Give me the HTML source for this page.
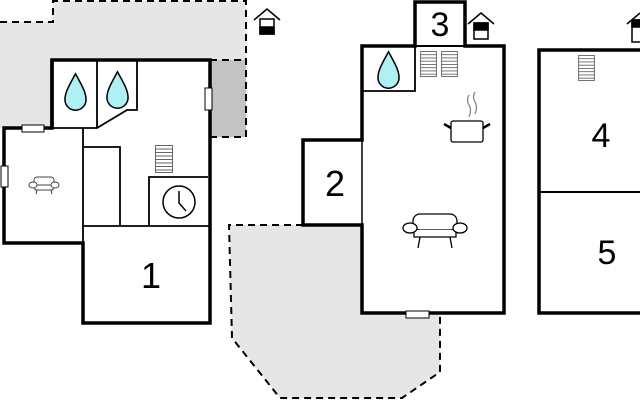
<!DOCTYPE html>
<html><head><meta charset="utf-8"><style>
html,body{margin:0;padding:0;background:#fff;width:640px;height:400px;overflow:hidden}
svg text{font-family:"Liberation Sans",sans-serif;fill:#000}
</style></head><body>
<svg width="640" height="400" viewBox="0 0 640 400" xmlns="http://www.w3.org/2000/svg">
<defs>
<symbol id="drop" viewBox="0 0 24 40"><path d="M12 1 C6 12 1 20 1 28 A11 11 0 0 0 23 28 C23 20 18 12 12 1 Z" fill="#aef0f3" stroke="#000" stroke-width="1.6"/></symbol>
<symbol id="stairs" viewBox="0 0 18 28"><rect x="0.5" y="0.5" width="17" height="27" fill="#fff" stroke="#666" stroke-width="1"/><path d="M0 4h18M0 7.5h18M0 11h18M0 14.5h18M0 18h18M0 21.5h18M0 25h18" stroke="#666" stroke-width="1"/></symbol>
</defs>
<!-- grey areas left -->
<path d="M0 22 H53 V1 H246 V60 H210 V128 H52 V128 H0 Z" fill="#e6e6e6"/>
<rect x="210" y="60" width="36" height="77" fill="#c3c3c3"/>
<path d="M0 22 H53 V1 H246 V137 H210" fill="none" stroke="#000" stroke-width="2" stroke-dasharray="7,5"/>
<path d="M210 60 H246" fill="none" stroke="#000" stroke-width="2" stroke-dasharray="7,5"/>
<!-- grey area center -->
<path d="M229 225 H362 V313 H440 V372 L402 398 H280 L232 338 Z" fill="#e6e6e6"/>
<path d="M303 225 H229 L232 338 L280 398 H402 L440 372 V313" fill="none" stroke="#000" stroke-width="2" stroke-dasharray="7,5"/>
<!-- building 1 -->
<g fill="none" stroke="#000">
<path d="M52 60 H210 V323 H83 V243 H4 V128 H52 Z" fill="#fff" stroke-width="3.5"/>
<path d="M52 60 V128" stroke-width="3.5"/>
<path d="M97 60 V128 M52 128 H97 L127 110 H137 V60" stroke-width="1.8"/>
<path d="M83 128 V243 M83 226 H210 M83 147 H120 V226 M149 226 V177 H208" stroke-width="1.8"/>
</g>
<use href="#drop" x="64" y="72" width="23" height="40"/>
<use href="#drop" x="106" y="70" width="23" height="40"/>
<rect x="22" y="125" width="22" height="7" fill="#fff" stroke="#000" stroke-width="1"/>
<rect x="1" y="166" width="7" height="21" fill="#fff" stroke="#000" stroke-width="1"/>
<rect x="205" y="88" width="7" height="22" fill="#fff" stroke="#000" stroke-width="1"/>
<use href="#stairs" x="155" y="145" width="18" height="28"/>
<circle cx="179" cy="202" r="16" fill="none" stroke="#000" stroke-width="1.5"/>
<path d="M179 191 V203 L186 211" fill="none" stroke="#000" stroke-width="1.5"/>
<g fill="#fff" stroke="#444" stroke-width="1">
<rect x="34" y="177" width="20" height="8" rx="3"/>
<ellipse cx="33" cy="185" rx="4" ry="3"/><ellipse cx="55" cy="185" rx="4" ry="3"/>
<path d="M35 187 V190 H53 V187 M37 190 L36 194 M51 190 L52 194"/>
</g>
<text x="151" y="288" font-size="36" text-anchor="middle">1</text>
<!-- building 2/3 -->
<g fill="none" stroke="#000">
<path d="M362 46 H415 V2 H465 V46 H504 V313 H362 V225 H303 V140 H362 Z" fill="#fff" stroke-width="3.5"/>
<path d="M415 46 H465" stroke-width="2"/>
<path d="M362 46 V91 H415 V46" stroke-width="1.8"/>
<path d="M362 140 V225" stroke-width="1.5"/>
</g>
<use href="#drop" x="377" y="50" width="23" height="40"/>
<use href="#stairs" x="420" y="51" width="17" height="26"/>
<use href="#stairs" x="441" y="51" width="17" height="26"/>
<rect x="406" y="311" width="23" height="7" fill="#fff" stroke="#000" stroke-width="1"/>
<g fill="none" stroke="#888" stroke-width="1.3">
<path d="M469 95 q-3 5 0 10 q3 5 0 12 M475 92 q-3 5 0 10 q3 5 0 12"/>
</g>
<g fill="#fff" stroke="#000" stroke-width="1.3">
<rect x="451" y="121" width="32" height="21" rx="2"/>
<path d="M451 128 L444 124 M483 128 L490 124" stroke-width="2.5"/>
</g>
<g fill="#fff" stroke="#000" stroke-width="1.3">
<rect x="413" y="214" width="44" height="16" rx="7"/>
<path d="M414 230 V237 H456 V230"/>
<ellipse cx="410" cy="228" rx="7" ry="5"/><ellipse cx="460" cy="228" rx="7" ry="5"/>
<path d="M420 237 L418 248 M450 237 L452 248"/>
</g>
<text x="335" y="196" font-size="36" text-anchor="middle">2</text>
<text x="440" y="36" font-size="34" text-anchor="middle">3</text>
<!-- building 4/5 -->
<path d="M640 50 H539 V313 H640" fill="#fff" stroke="#000" stroke-width="3.5"/>
<path d="M539 192 H640" stroke="#000" stroke-width="2"/>
<use href="#stairs" x="578" y="55" width="17" height="26"/>
<text x="601" y="147" font-size="34" text-anchor="middle">4</text>
<text x="607" y="264" font-size="34" text-anchor="middle">5</text>
<!-- house icons -->
<g fill="none" stroke="#000" stroke-width="1.5">
<path d="M254 20 L267 9 L280 20"/>
<rect x="260" y="19" width="14" height="15" fill="#fff"/>
<rect x="260" y="27" width="14" height="7" fill="#000"/>
<path d="M468 24 L481 13 L494 24"/>
<rect x="474" y="23" width="14" height="16" fill="#fff"/>
<rect x="474" y="23" width="14" height="7" fill="#000"/>
<path d="M627 24 L640 13"/>
<rect x="632" y="20" width="14" height="22" fill="#fff"/>
<rect x="632" y="20" width="14" height="7" fill="#000"/>
</g>
</svg>
</body></html>
